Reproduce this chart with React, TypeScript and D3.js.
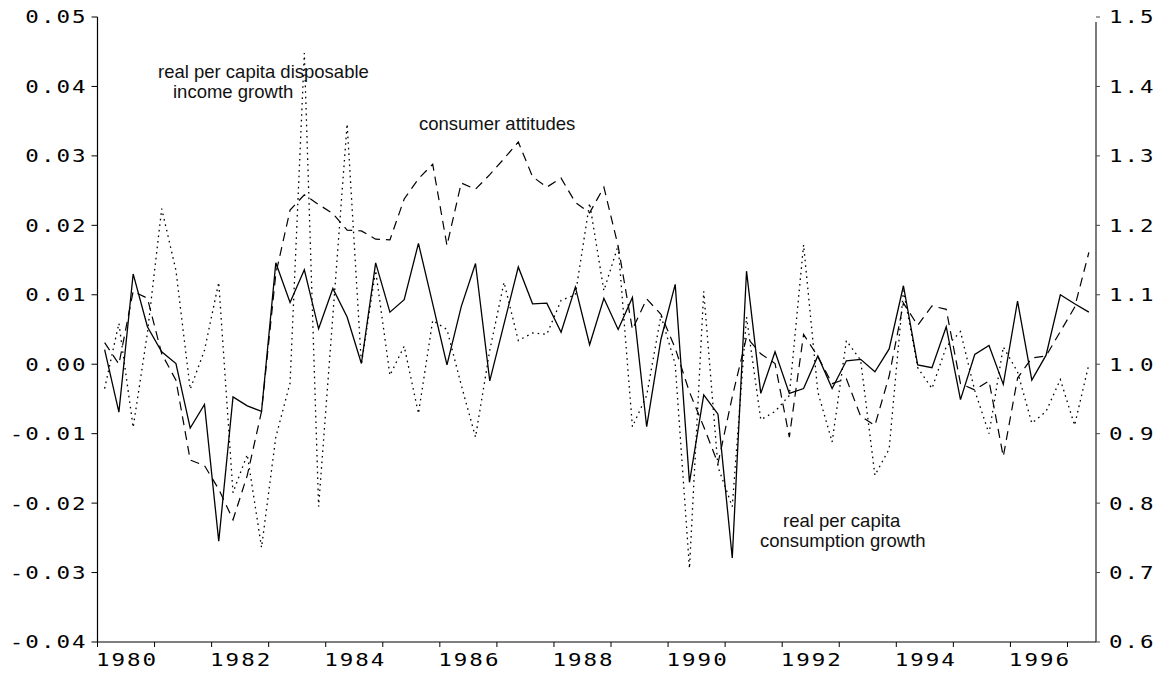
import React from 'react';
import * as d3 from 'd3';

// Quarterly observations, 1980Q1 .. 1997Q2
const START_YEAR = 1980;

// real per capita consumption growth (solid, left axis)
const consumption = [
  0.0021, -0.0069, 0.0130, 0.0054, 0.0018, 0.0001, -0.0092, -0.0058, -0.0255, -0.0047,
  -0.0060, -0.0068, 0.0146, 0.0089, 0.0136, 0.0051, 0.0109, 0.0068, 0.0001, 0.0146,
  0.0075, 0.0093, 0.0174, 0.0087, -0.0001, 0.0083, 0.0145, -0.0024, 0.0058, 0.0140,
  0.0087, 0.0088, 0.0046, 0.0111, 0.0028, 0.0095, 0.0050, 0.0096, -0.0090, 0.0036,
  0.0115, -0.0170, -0.0044, -0.0072, -0.0279, 0.0134, -0.0042, 0.0018, -0.0042, -0.0035,
  0.0012, -0.0035, 0.0005, 0.0007, -0.0011, 0.0022, 0.0113, -0.0001, -0.0005, 0.0054,
  -0.0051, 0.0014, 0.0027, -0.0029, 0.0091, -0.0023, 0.0013, 0.0100, 0.0087, 0.0075,
];

// real per capita disposable income growth (dotted, left axis)
const income = [
  -0.0035, 0.0059, -0.0091, 0.0045, 0.0224, 0.0135, -0.0036, 0.0020, 0.0118, -0.0185,
  -0.0130, -0.0264, -0.0105, -0.0027, 0.0448, -0.0205, 0.0070, 0.0346, 0.0000, 0.0135,
  -0.0016, 0.0026, -0.0071, 0.0063, 0.0050, -0.0030, -0.0105, 0.0020, 0.0118, 0.0034,
  0.0045, 0.0043, 0.0092, 0.0100, 0.0232, 0.0106, 0.0171, -0.0090, -0.0045, 0.0070,
  0.0000, -0.0294, 0.0105, -0.0148, -0.0205, 0.0068, -0.0080, -0.0068, -0.0045, 0.0172,
  -0.0040, -0.0112, 0.0034, 0.0006, -0.0160, -0.0122, 0.0106, -0.0005, -0.0035, 0.0025,
  0.0047, -0.0038, -0.0100, 0.0025, -0.0011, -0.0085, -0.0068, -0.0022, -0.0088, 0.0000,
];

// consumer attitudes (dashed, right axis)
const attitudes = [
  1.031, 1.000, 1.105, 1.095, 1.015, 0.977, 0.862, 0.854, 0.820, 0.776,
  0.840, 0.932, 1.130, 1.222, 1.244, 1.230, 1.217, 1.193, 1.192, 1.180,
  1.179, 1.238, 1.267, 1.288, 1.171, 1.261, 1.252, 1.273, 1.296, 1.320,
  1.270, 1.255, 1.268, 1.233, 1.218, 1.255, 1.170, 1.050, 1.094, 1.072,
  1.023, 0.960, 0.910, 0.857, 0.953, 1.039, 1.015, 1.001, 0.895, 1.043,
  1.011, 0.972, 0.979, 0.925, 0.912, 0.983, 1.088, 1.056, 1.084, 1.079,
  0.972, 0.963, 0.976, 0.867, 0.980, 1.009, 1.012, 1.047, 1.082, 1.161,
];

const leftTicks = [-0.04, -0.03, -0.02, -0.01, 0.0, 0.01, 0.02, 0.03, 0.04, 0.05];
const rightTicks = [0.6, 0.7, 0.8, 0.9, 1.0, 1.1, 1.2, 1.3, 1.4, 1.5];
const yearTicks = [1980, 1981, 1982, 1983, 1984, 1985, 1986, 1987, 1988, 1989, 1990,
  1991, 1992, 1993, 1994, 1995, 1996, 1997];
const yearLabels = [1980, 1982, 1984, 1986, 1988, 1990, 1992, 1994, 1996];

const incomeLabel = ['real per capita disposable', 'income growth'];
const attitudesLabel = 'consumer attitudes';
const consumptionLabel = ['real per capita', 'consumption growth'];

export default function App() {
  const W = 1163;
  const H = 673;
  const left = 97.5;
  const right = 1096;
  const top = 17;
  const bottom = 642;

  const x = d3.scaleLinear().domain([START_YEAR, 1997.5]).range([left, right]);
  const yL = d3.scaleLinear().domain([-0.04, 0.05]).range([bottom, top]);
  const yR = d3.scaleLinear().domain([0.6, 1.5]).range([bottom, top]);
  const t = (i: number) => START_YEAR + (i + 0.5) / 4;

  const lineL = d3.line<number>().x((_, i) => x(t(i))).y((d) => yL(d));
  const lineR = d3.line<number>().x((_, i) => x(t(i))).y((d) => yR(d));

  const tickFont = {
    fontFamily: '"DejaVu Sans Mono", monospace',
    fontSize: 18,
    letterSpacing: 1.6,
    fill: '#000',
  } as const;
  const SX = 1.25;
  const annFont = {
    fontFamily: '"Liberation Sans", Arial, sans-serif',
    fontSize: 18.5,
    fill: '#111',
  } as const;

  const TickText = ({ px, py, anchor, children }: { px: number; py: number; anchor: 'start' | 'middle' | 'end'; children: React.ReactNode }) => (
    <text transform={`translate(${px},${py}) scale(${SX},1)`} dy="0.36em" textAnchor={anchor} {...tickFont}>
      {children}
    </text>
  );

  return (
    <svg
      width={W}
      height={H}
      viewBox={`0 0 ${W} ${H}`}
      style={{ position: 'absolute', left: 0, top: 0, background: '#fff' }}
    >
      <rect x={0} y={0} width={W} height={H} fill="#fff" />

      {/* series */}
      <path d={lineR(attitudes) || ''} fill="none" stroke="#000" strokeWidth={1.2} strokeDasharray="9 6" />
      <path d={lineL(income) || ''} fill="none" stroke="#000" strokeWidth={1.3} strokeDasharray="1.6 4" />
      <path d={lineL(consumption) || ''} fill="none" stroke="#000" strokeWidth={1.3} />

      {/* axes */}
      <line x1={left} x2={left} y1={top} y2={bottom} stroke="#000" strokeWidth={1.2} />
      <line x1={right} x2={right} y1={top + 5} y2={bottom} stroke="#444" strokeWidth={1.4} />
      <line x1={left} x2={right} y1={bottom} y2={bottom} stroke="#000" strokeWidth={1.2} />

      {leftTicks.map((v) => (
        <g key={'l' + v}>
          <line x1={left - 6} x2={left} y1={yL(v)} y2={yL(v)} stroke="#000" strokeWidth={1} />
          <TickText px={left - 10} py={yL(v)} anchor="end">{v.toFixed(2)}</TickText>
        </g>
      ))}

      {rightTicks.map((v) => (
        <g key={'r' + v}>
          <line x1={right} x2={right + 4} y1={yR(v)} y2={yR(v)} stroke="#444" strokeWidth={1} />
          <TickText px={right + 13} py={yR(v)} anchor="start">{v.toFixed(1)}</TickText>
        </g>
      ))}

      {yearTicks.map((yr) => (
        <line key={'t' + yr} x1={x(yr)} x2={x(yr)} y1={bottom} y2={bottom + 5} stroke="#000" strokeWidth={1} />
      ))}
      {yearLabels.map((yr) => (
        <TickText key={'y' + yr} px={x(yr + 0.5) + 1} py={660} anchor="middle">{yr}</TickText>
      ))}

      {/* annotations */}
      <text x={158} y={78} {...annFont}>{incomeLabel[0]}</text>
      <text x={173} y={98} {...annFont}>{incomeLabel[1]}</text>
      <text x={419} y={130} {...annFont}>{attitudesLabel}</text>
      <text x={783} y={527} {...annFont}>{consumptionLabel[0]}</text>
      <text x={760} y={547} {...annFont}>{consumptionLabel[1]}</text>
    </svg>
  );
}
